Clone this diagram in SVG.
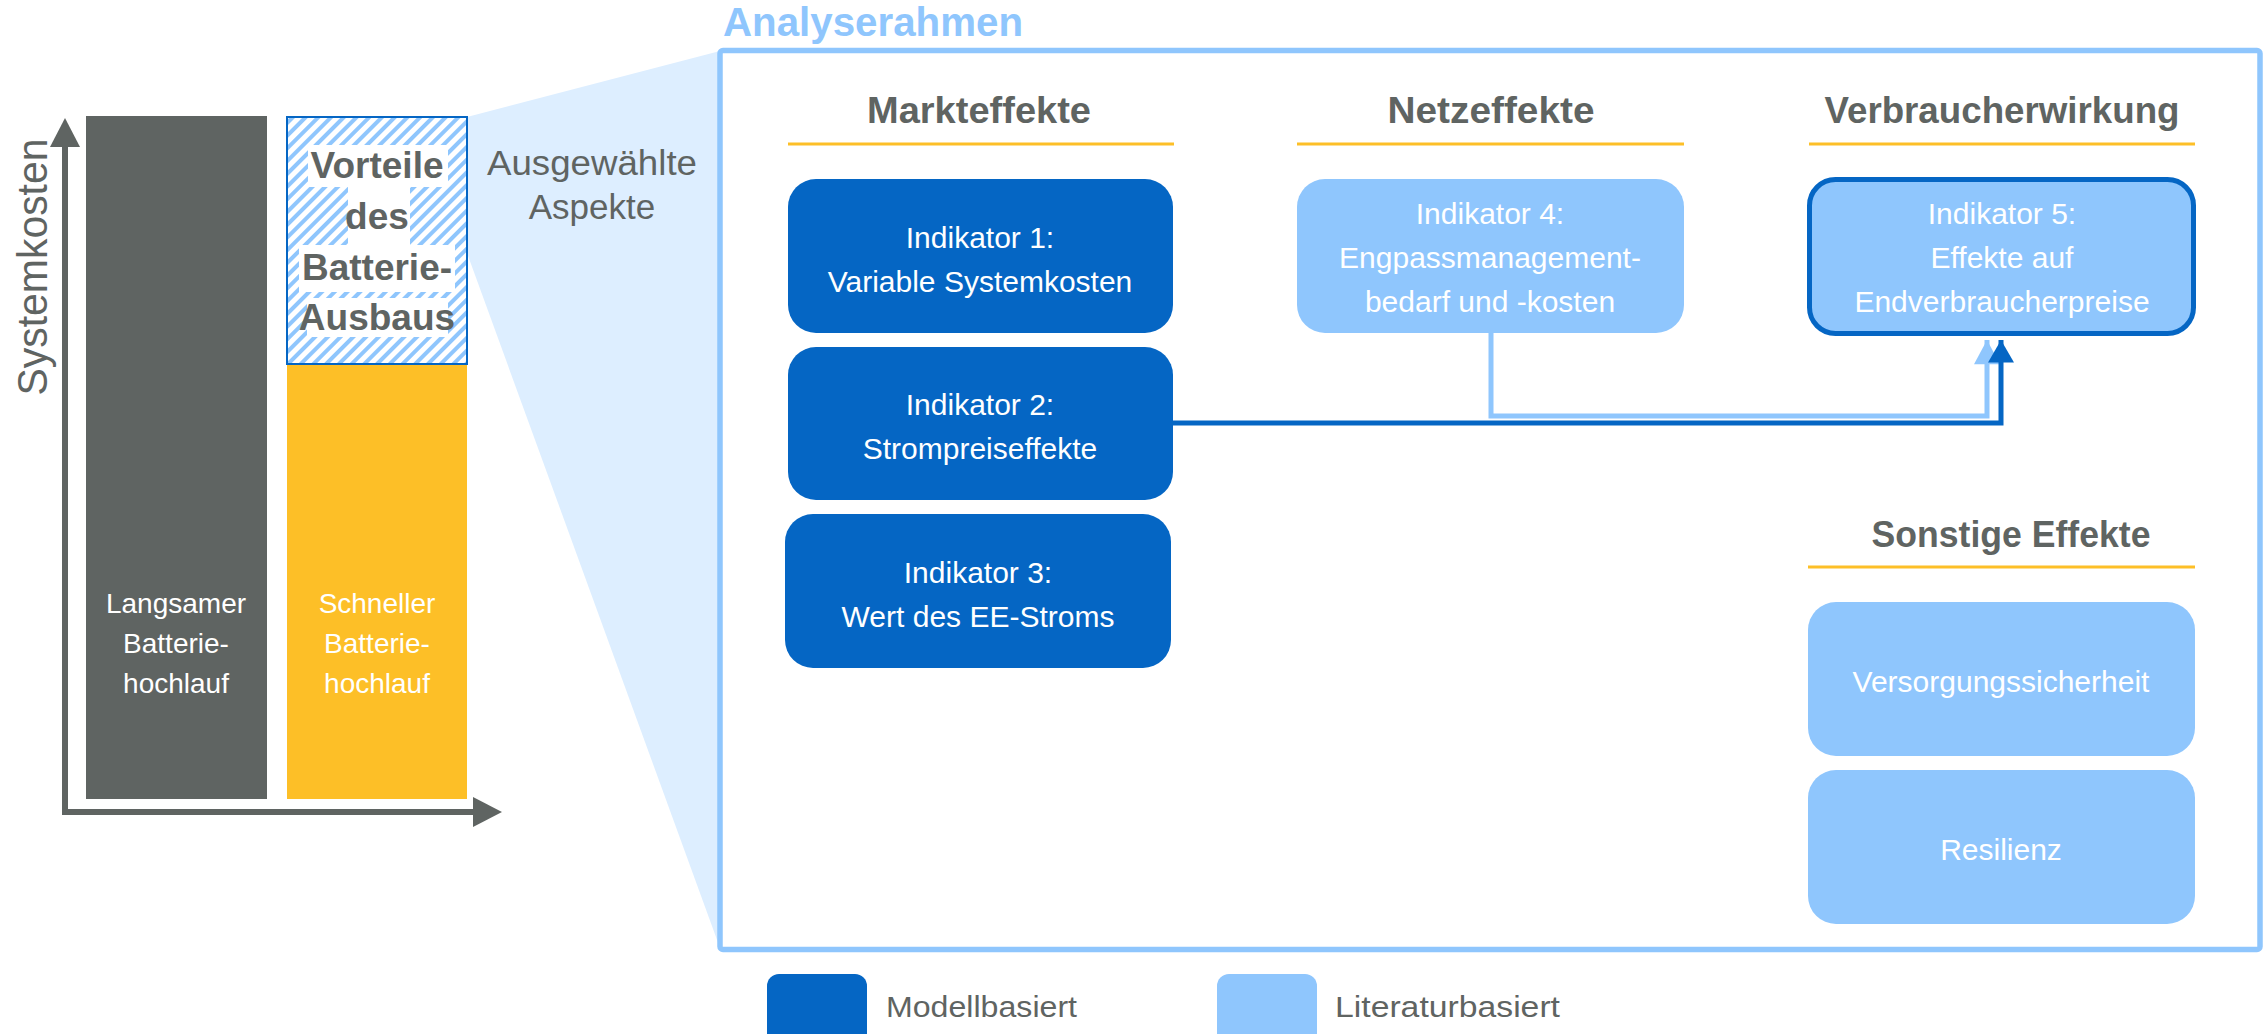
<svg xmlns="http://www.w3.org/2000/svg" width="2267" height="1034" viewBox="0 0 2267 1034">
<defs>
<style>
text{font-family:"Liberation Sans",Arial,sans-serif}
.g{fill:#5f6462}
.hdr{font-size:37px;font-weight:bold;fill:#5f6462;text-anchor:middle}
.ul{stroke:#fdbf27;stroke-width:3;fill:none}
.dk{fill:#0566c4}
.lt{fill:#8fc6fd}
.bt{fill:#fff;font-size:30px;text-anchor:middle}
.vt{font-size:37px;font-weight:bold;fill:#5f6462;text-anchor:middle}
.lg{font-size:30px;fill:#5f6462}
</style>
<pattern id="hatch" width="9" height="9" patternUnits="userSpaceOnUse" patternTransform="rotate(45)">
<rect width="9" height="9" fill="#fff"/>
<rect width="4" height="9" fill="#8fc6fd"/>
</pattern>
<marker id="arrDk" markerWidth="30" markerHeight="26" refX="26" refY="15" orient="auto" markerUnits="userSpaceOnUse" viewBox="0 0 26 30">
<path d="M0,0 L26,15 L0,30 Z" fill="#0566c4"/>
</marker>
<marker id="arrLt" markerWidth="28" markerHeight="26" refX="26" refY="14" orient="auto" markerUnits="userSpaceOnUse" viewBox="0 0 26 28">
<path d="M0,0 L26,14 L0,28 Z" fill="#8fc6fd"/>
</marker>
</defs>
<rect width="2267" height="1034" fill="#fff"/>

<!-- zoom wedge -->
<polygon points="467,117 720,51 720,948 467,253" fill="#ddeeff"/>

<!-- left chart -->
<g id="chart">
<path d="M65,812 V146" stroke="#5f6462" stroke-width="6" fill="none"/>
<polygon points="50,147 80,147 65,118" fill="#5f6462"/>
<path d="M62,812 H474" stroke="#5f6462" stroke-width="6" fill="none"/>
<polygon points="473,797 473,827 502,812" fill="#5f6462"/>
<text class="g" transform="translate(47,267) rotate(-90)" text-anchor="middle" font-size="42" textLength="257" lengthAdjust="spacingAndGlyphs">Systemkosten</text>
</g>
<g id="bar-langsam">
<rect x="86" y="116" width="181" height="683" fill="#5f6462"/>
<text class="bt" x="176" y="613" font-size="28" style="font-size:28px">Langsamer</text>
<text class="bt" x="176" y="653" style="font-size:28px">Batterie-</text>
<text class="bt" x="176" y="693" style="font-size:28px">hochlauf</text>
</g>
<g id="bar-schnell">
<rect x="287" y="364" width="180" height="435" fill="#fdbf27"/>
<text class="bt" x="377" y="613" style="font-size:28px">Schneller</text>
<text class="bt" x="377" y="653" style="font-size:28px">Batterie-</text>
<text class="bt" x="377" y="693" style="font-size:28px">hochlauf</text>
</g>
<g id="vorteile">
<rect x="287" y="117" width="180" height="247" fill="url(#hatch)" stroke="#0566c4" stroke-width="2"/>
<rect x="308" y="145" width="140" height="42" fill="#fff"/>
<rect x="348" y="187" width="62" height="58" fill="#fff"/>
<rect x="299" y="245" width="156" height="47" fill="#fff"/>
<rect x="307" y="298" width="141" height="39" fill="#fff"/>
<text class="vt" x="377" y="178">Vorteile</text>
<text class="vt" x="377" y="229">des</text>
<text class="vt" x="377" y="280">Batterie-</text>
<text class="vt" x="377" y="330">Ausbaus</text>
</g>
<g id="ausgewaehlt">
<text class="g" x="592" y="175" text-anchor="middle" font-size="35" textLength="210" lengthAdjust="spacingAndGlyphs">Ausgewählte</text>
<text class="g" x="592" y="219" text-anchor="middle" font-size="35">Aspekte</text>
</g>

<!-- frame -->
<g id="frame">
<rect x="720" y="50.5" width="1540" height="899" rx="3" fill="#fff" stroke="#8fc6fd" stroke-width="5.5"/>
<text x="723" y="36" font-size="40" font-weight="bold" fill="#8fc6fd" textLength="300" lengthAdjust="spacingAndGlyphs">Analyserahmen</text>
</g>

<!-- headers -->
<g id="hdr-markt">
<text class="hdr" x="979" y="123" textLength="224" lengthAdjust="spacingAndGlyphs">Markteffekte</text>
<line class="ul" x1="788" y1="144" x2="1174" y2="144"/>
</g>
<g id="hdr-netz">
<text class="hdr" x="1491" y="123" textLength="207" lengthAdjust="spacingAndGlyphs">Netzeffekte</text>
<line class="ul" x1="1297" y1="144" x2="1684" y2="144"/>
</g>
<g id="hdr-verbraucher">
<text class="hdr" x="2002" y="123" textLength="355" lengthAdjust="spacingAndGlyphs">Verbraucherwirkung</text>
<line class="ul" x1="1809" y1="144" x2="2195" y2="144"/>
</g>
<g id="hdr-sonstige">
<text class="hdr" x="2011" y="547" textLength="279" lengthAdjust="spacingAndGlyphs">Sonstige Effekte</text>
<line class="ul" x1="1808" y1="567" x2="2195" y2="567"/>
</g>

<!-- connectors -->
<g id="connectors" fill="none" stroke-width="5">
<path d="M1491,333 V416 H1987 V340" stroke="#8fc6fd" marker-end="url(#arrLt)"/>
<path d="M1173,423 H2001 V340" stroke="#0566c4" marker-end="url(#arrDk)"/>
</g>

<!-- nodes -->
<g id="ind1">
<rect class="dk" x="788" y="179" width="385" height="154" rx="28"/>
<text class="bt" x="980" y="248">Indikator 1:</text>
<text class="bt" x="980" y="292">Variable Systemkosten</text>
</g>
<g id="ind2">
<rect class="dk" x="788" y="347" width="385" height="153" rx="28"/>
<text class="bt" x="980" y="415">Indikator 2:</text>
<text class="bt" x="980" y="459">Strompreiseffekte</text>
</g>
<g id="ind3">
<rect class="dk" x="785" y="514" width="386" height="154" rx="28"/>
<text class="bt" x="978" y="583">Indikator 3:</text>
<text class="bt" x="978" y="627">Wert des EE-Stroms</text>
</g>
<g id="ind4">
<rect class="lt" x="1297" y="179" width="387" height="154" rx="28"/>
<text class="bt" x="1490" y="224">Indikator 4:</text>
<text class="bt" x="1490" y="268">Engpassmanagement-</text>
<text class="bt" x="1490" y="312">bedarf und -kosten</text>
</g>
<g id="ind5">
<rect class="lt" x="1809.5" y="179.5" width="384" height="154" rx="26" stroke="#0566c4" stroke-width="5"/>
<text class="bt" x="2002" y="224">Indikator 5:</text>
<text class="bt" x="2002" y="268">Effekte auf</text>
<text class="bt" x="2002" y="312">Endverbraucherpreise</text>
</g>
<g id="versorgung">
<rect class="lt" x="1808" y="602" width="387" height="154" rx="28"/>
<text class="bt" x="2001" y="692">Versorgungssicherheit</text>
</g>
<g id="resilienz">
<rect class="lt" x="1808" y="770" width="387" height="154" rx="28"/>
<text class="bt" x="2001" y="860">Resilienz</text>
</g>

<!-- legend -->
<g id="legend-modell">
<rect class="dk" x="767" y="974" width="100" height="100" rx="12"/>
<text class="lg" x="886" y="1017" textLength="191" lengthAdjust="spacingAndGlyphs">Modellbasiert</text>
</g>
<g id="legend-literatur">
<rect class="lt" x="1217" y="974" width="100" height="100" rx="12"/>
<text class="lg" x="1335" y="1017" textLength="225" lengthAdjust="spacingAndGlyphs">Literaturbasiert</text>
</g>
</svg>
